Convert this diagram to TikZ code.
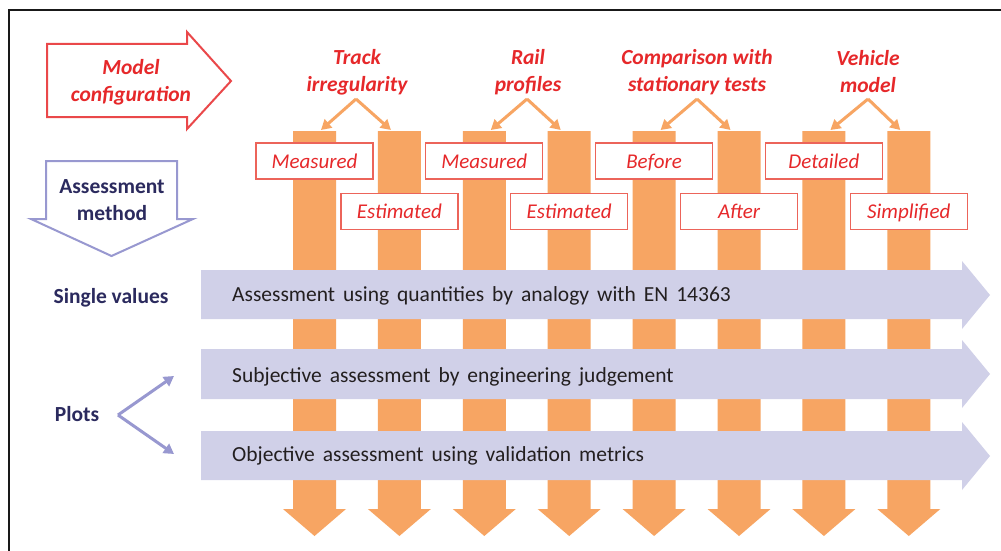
\documentclass[tikz,border=0pt]{standalone}
\usepackage{fontspec}
\setmainfont{Carlito}
\usetikzlibrary{arrows.meta}
\definecolor{cred}{RGB}{230,40,42}
\definecolor{boxred}{RGB}{236,100,90}
\definecolor{orng}{RGB}{247,165,99}
\definecolor{lav}{RGB}{208,208,232}
\definecolor{lavline}{RGB}{152,152,208}
\definecolor{navy}{RGB}{43,42,94}
\definecolor{dgray}{RGB}{35,31,32}
\tikzset{
  cat/.style={font=\fontsize{21.5}{27}\selectfont\bfseries\itshape, text=cred, align=center, inner sep=0pt},
  optbox/.style={draw=boxred, line width=1.3pt, fill=white, minimum width=117pt, minimum height=36pt, inner sep=0pt, text height=17pt, text depth=3pt, font=\fontsize{21}{25}\selectfont\itshape, text=cred},
  conn/.style={draw=orng, line width=3pt, -{Triangle[length=10pt,width=11pt]}},
  plotconn/.style={draw=lavline, line width=3pt, -{Triangle[length=10pt,width=11pt]}},
  rowtext/.style={font=\fontsize{21.5}{25}\selectfont, execute at begin node={\spaceskip=8pt\relax}, text=dgray, anchor=west, inner sep=0pt},
  sidetext/.style={font=\fontsize{21.5}{27}\selectfont\bfseries, text=navy, align=center, inner sep=0pt},
}
\begin{document}
\begin{tikzpicture}[x=1pt,y=-1pt]
\useasboundingbox (0,0) rectangle (1001,551);
\fill[white] (0,0) rectangle (1001,551);
% frame
\draw[line width=2pt, color=black!90] (9,551) -- (9,10) -- (1001,10);

% model configuration arrow
\draw[draw=cred!85, line width=2pt, fill=white, line join=miter]
  (47,44) -- (187,44) -- (187,32) -- (231,81) -- (187,129) -- (187,117) -- (47,117) -- cycle;
\node[cat] (modelcfg) at (131,82) {Model\\configuration};

% assessment method arrow
\draw[draw=lavline, line width=2pt, fill=white, line join=miter]
  (46,161) -- (177,161) -- (177,219) -- (193,219) -- (111.5,256) -- (31,219) -- (46,219) -- cycle;
\node[sidetext] (assmeth) at (112,200) {Assessment\\method};

% orange columns
\foreach \k in {0,...,7} {
  \pgfmathsetmacro{\xl}{293+84.9*\k}
  \fill[orng] (\xl,131) -- ({\xl+43},131) -- ({\xl+43},509) -- ({\xl+53},509)
     -- ({\xl+21.5},536) -- ({\xl-10},509) -- (\xl,509) -- cycle;
  \coordinate (colL\k) at ({\xl+28},130);
  \coordinate (colR\k) at ({\xl+13},130);
}

% category labels
\node[cat] (track) at (357,72) {Track\\irregularity};
\node[cat] (rail) at (528,72) {Rail\\profiles};
\node[cat] (comp) at (697,72) {Comparison with\\stationary tests};
\node[cat] (veh) at (868,72) {Vehicle\\model};

\coordinate (apT) at (356,99);
\coordinate (apR) at (527,99);
\coordinate (apC) at (697,99);
\coordinate (apV) at (868,99);

\draw[conn] (apT) -- (colL0);
\draw[conn] (apT) -- (colR1);
\draw[conn] (apR) -- (colL2);
\draw[conn] (apR) -- (colR3);
\draw[conn] (apC) -- (colL4);
\draw[conn] (apC) -- (colR5);
\draw[conn] (apV) -- (colL6);
\draw[conn] (apV) -- (colR7);

% option boxes
\node[optbox] (meas1) at (314.5,161) {Measured};
\node[optbox] (est1) at (399.4,211.5) {Estimated};
\node[optbox] (meas2) at (484.3,161) {Measured};
\node[optbox] (est2) at (569.2,211.5) {Estimated};
\node[optbox] (before) at (654.1,161) {Before};
\node[optbox] (after) at (739,211.5) {After};
\node[optbox] (detail) at (823.9,161) {Detailed};
\node[optbox] (simpl) at (908.8,211.5) {Simplified};

% purple row arrows
\fill[lav] (201,270) -- (962,270) -- (962,261) -- (990,295) -- (962,329) -- (962,319) -- (201,319) -- cycle;
\fill[lav] (201,349) -- (962,349) -- (962,340) -- (990,374) -- (962,408) -- (962,399) -- (201,399) -- cycle;
\fill[lav] (201,431) -- (962,431) -- (962,422) -- (990,456) -- (962,490) -- (962,480) -- (201,480) -- cycle;

\node[rowtext] (row1) at (232,296) {Assessment using quantities by analogy with EN 14363};
\node[rowtext] (row2) at (232,377) {Subjective assessment by engineering judgement};
\node[rowtext] (row3) at (232,456) {Objective assessment using validation metrics};

% side labels
\node[sidetext] (single) at (111,298) {Single values};
\node[sidetext] (plots) at (77,414) {Plots};
\coordinate (plapex) at (118,415);
\coordinate (plup) at (174,376);
\coordinate (pldown) at (174,454);
\draw[plotconn] (plapex) -- (plup);
\draw[plotconn] (plapex) -- (pldown);
\end{tikzpicture}
\end{document}
